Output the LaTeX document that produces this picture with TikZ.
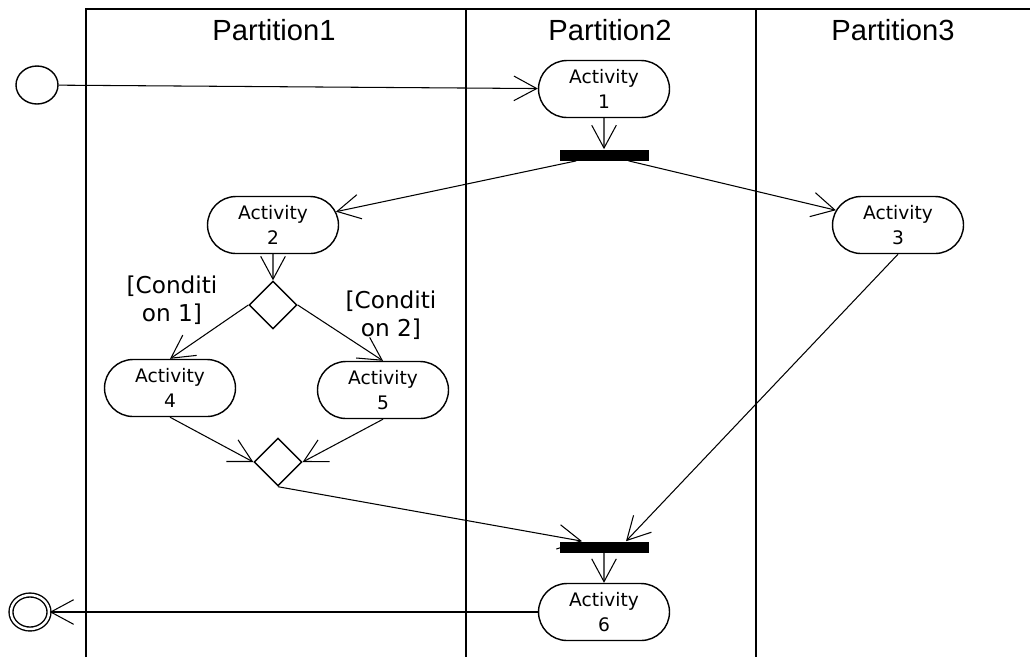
\documentclass[tikz,border=0pt]{standalone}
\usepackage{fontspec}
\setmainfont{DejaVu Sans}
\newfontfamily\lanefont{Liberation Sans}
\usetikzlibrary{arrows.meta,shapes.geometric,shapes.misc}
\tikzset{
  activity/.style={draw, rounded rectangle, line width=0.8pt, minimum width=2.62cm, minimum height=1.14cm, inner sep=0pt, align=center, font=\fontsize{10.6}{14.5}\selectfont},
  branch/.style={draw, diamond, line width=0.8pt, minimum size=0.96cm, inner sep=0pt},
  bar/.style={fill=black, minimum width=1.78cm, minimum height=0.22cm, inner sep=0pt},
  guard/.style={align=center, font=\fontsize{13.2}{16}\selectfont},
  lane/.style={font=\lanefont\fontsize{16.6}{19}\selectfont},
  flow/.style={line width=0.6pt, -{Straight Barb[length=13pt,width=14pt]}},
}
\begin{document}
\begin{tikzpicture}[x=0.02cm, y=-0.02cm]
\useasboundingbox (0,0) rectangle (1030,657);
\draw[line width=1.4pt] (86,657) -- (86,9) -- (1030,9);
\draw[line width=1.4pt] (466,9) -- (466,657);
\draw[line width=1.4pt] (756,9) -- (756,657);
\node[lane] (p1) at (274,30) {Partition1};
\node[lane] (p2) at (610,30) {Partition2};
\node[lane] (p3) at (893,30) {Partition3};
\node[draw, ellipse, line width=0.8pt, minimum width=0.84cm, minimum height=0.76cm, inner sep=0pt] (start) at (37,85) {};
\node[activity] (a1) at (604,89) {Activity\\1};
\node[bar] (fork) at (604,155) {};
\node[activity] (a2) at (273,225) {Activity\\2};
\node[activity] (a3) at (898,225) {Activity\\3};
\node[branch] (d1) at (273,305) {};
\node[activity] (a4) at (170,388) {Activity\\4};
\node[activity] (a5) at (383,390) {Activity\\5};
\node[branch] (d2) at (278,462) {};
\node[bar] (join) at (604,547) {};
\node[activity] (a6) at (604,612) {Activity\\6};
\node[draw, ellipse, double, line width=0.8pt, double distance=1.4pt, minimum width=0.76cm, minimum height=0.68cm, inner sep=0pt] (end) at (30,612) {};
\node[guard] (g1) at (172,300) {[Conditi\\on 1]};
\node[guard] (g2) at (391,315) {[Conditi\\on 2]};
\draw[flow] (start) -- (a1);
\draw[flow] (a1) -- (fork);
\draw[flow] (fork) -- (a2);
\draw[flow] (fork) -- (a3);
\draw[flow] (a2) -- (d1);
\draw[flow] (d1.west) -- (a4.north);
\draw[flow] (d1.east) -- (a5.north);
\draw[flow] (a4.south) -- (d2.west);
\draw[flow] (a5.south) -- (d2.east);
\draw[flow] (d2.south) -- ([xshift=-0.44cm]join.north);
\draw[flow] (a3.south) -- ([xshift=0.44cm]join.north);
\draw[flow] (join) -- (a6);
\draw[flow] (a6) -- (end);
\end{tikzpicture}
\end{document}
